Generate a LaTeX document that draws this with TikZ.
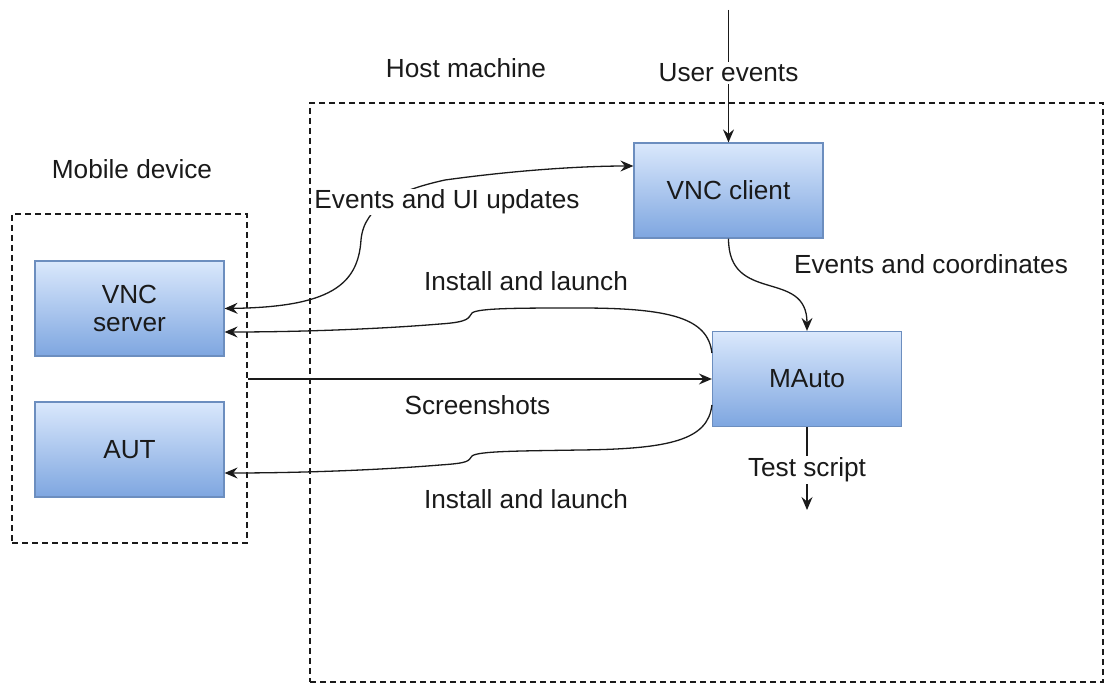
\documentclass[tikz,border=0pt]{standalone}
\usepackage{fontspec}
\setmainfont{Liberation Sans}
\usetikzlibrary{arrows.meta}
\definecolor{boxtop}{HTML}{DAE8FC}
\definecolor{boxbot}{HTML}{7EA6E0}
\definecolor{boxline}{HTML}{6C8EBF}
\definecolor{ink}{HTML}{1A1A1A}
\begin{document}
\begin{tikzpicture}[x=1pt,y=-1pt,
  every node/.style={font=\fontsize{26.2}{30}\selectfont, text=ink},
  box/.style={draw=boxline, line width=1.2pt, top color=boxtop, bottom color=boxbot,
    minimum width=189pt, minimum height=95pt, align=center, inner sep=0pt},
  group/.style={draw=ink, line width=1.1pt, dash pattern=on 6pt off 4pt, inner sep=0pt},
  conn/.style={draw=ink, line width=1.3pt, -{Stealth[length=13pt,width=11pt,inset=4.5pt]}},
  connboth/.style={draw=ink, line width=1.3pt, {Stealth[length=13pt,width=11pt,inset=4.5pt]}-{Stealth[length=13pt,width=11pt,inset=4.5pt]}},
  lbl/.style={fill=white, inner sep=2pt},
  caption/.style={inner sep=0pt}]
\useasboundingbox (0,0) rectangle (1107,684);

% containers
\node[group, minimum width=235pt, minimum height=329pt] (mobile) at (129.5,378.5) {};
\node[group, minimum width=793pt, minimum height=579pt] (host) at (706.5,392.5) {};
\node[caption] (mobiletitle) at (132,169) {Mobile device};
\node[caption] (hosttitle) at (466,68) {Host machine};

% components
\node[box] (vncserver) at (129.5,308.5) {VNC\\[-2pt]server};
\node[box] (aut) at (129.5,449.5) {AUT};
\node[box] (vncclient) at (728.5,190.5) {VNC client};
\node[box] (mauto) at (807,379) {MAuto};

% external endpoints
\coordinate (userin) at (728.5,10);
\coordinate (scriptout) at (807,510);

% user input into the client
\draw[conn] (userin) -- node[lbl, pos=0.475] {User events} (vncclient.north);

% client <-> server
\draw[connboth] (vncserver.east)
  .. controls (330,307) and (358,285) .. (361,240)
  .. controls (364,205) and (400,190) .. (445,180)
  .. controls (525,169) and (590,166) .. ([yshift=24.5pt]vncclient.west);
\node[lbl, inner sep=1pt] (uilbl) at (447,202) {Events and UI updates};

% client -> MAuto
\draw[conn] (vncclient.south)
  .. controls (728.5,305) and (807,268) .. (mauto.north);
\node[caption] (coordlbl) at (931,264) {Events and coordinates};

% MAuto installs onto the device
\draw[conn] ([yshift=26pt]mauto.west)
  .. controls (708,318) and (670,308) .. (580,308)
  .. controls (520,308) and (478,308) .. (472,313)
  .. controls (468,318) and (470,322) .. (440,324)
  .. controls (380,329) and (300,332) .. ([yshift=-23.5pt]vncserver.east);
\node[caption] (installtop) at (526,281) {Install and launch};

\draw[conn] ([yshift=-26pt]mauto.west)
  .. controls (708,440) and (670,449) .. (580,450)
  .. controls (520,451) and (478,451) .. (472,456)
  .. controls (468,461) and (470,463) .. (440,465)
  .. controls (380,470) and (300,473) .. ([yshift=-23.5pt]aut.east);
\node[caption] (installbot) at (526,499) {Install and launch};

% screenshots from the device
\draw[conn] (mobile.east |- mauto.west) -- node[caption, pos=0.495, yshift=-26pt] {Screenshots} (mauto.west);

% generated script
\draw[conn] (mauto.south) -- node[lbl, pos=0.52] {Test script} (scriptout);
\end{tikzpicture}
\end{document}
